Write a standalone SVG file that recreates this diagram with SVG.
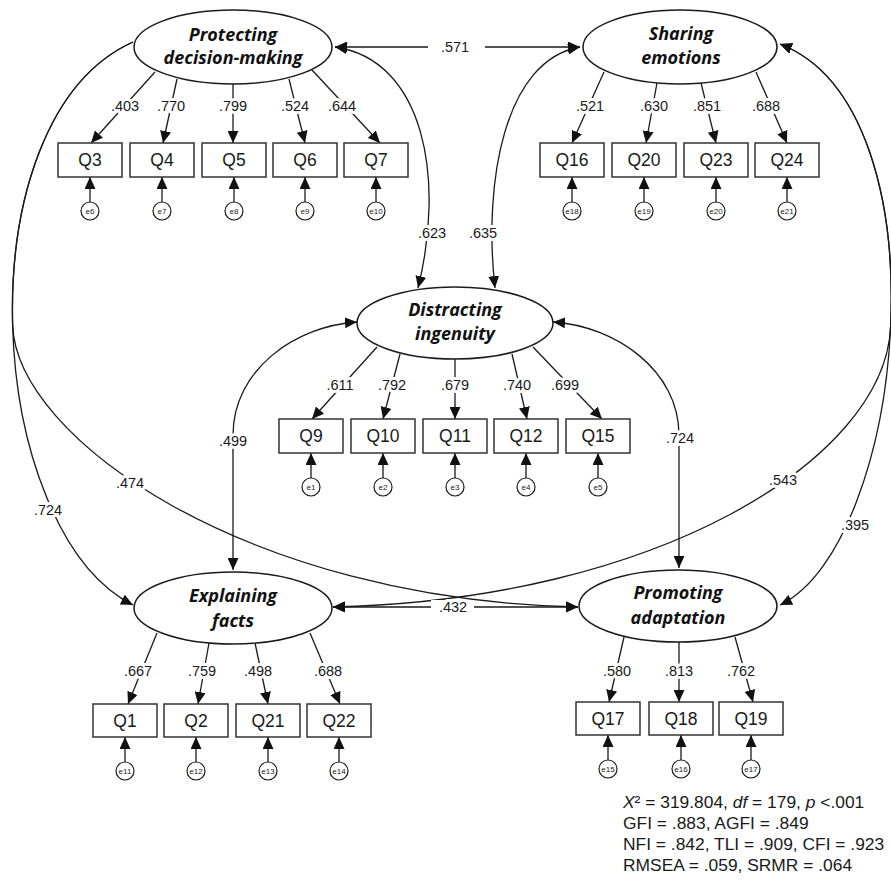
<svg xmlns="http://www.w3.org/2000/svg" width="891" height="896" viewBox="0 0 891 896">
<defs>
<style>
.c{fill:none;stroke:#1a1a1a;stroke-width:1.3}
.a{marker-end:url(#ah)}
.b{marker-start:url(#ah);marker-end:url(#ah)}
.lbl{font-family:"Liberation Sans",Arial,sans-serif;font-size:14.5px;fill:#1a1a1a;text-anchor:middle;stroke:#fff;stroke-width:6px;paint-order:stroke;stroke-linejoin:round}
.bg{fill:#fff}
.lat ellipse{fill:#fff;stroke:#1a1a1a;stroke-width:1.5}
.lat text{font-family:"Open Sans","Noto Sans",sans-serif;font-weight:bold;font-style:italic;font-size:18px;text-anchor:middle;fill:#111}
.obs rect{fill:#fff;stroke:#333;stroke-width:1.5}
.obs text{font-family:"Liberation Sans",Arial,sans-serif;font-size:17.5px;text-anchor:middle;fill:#1a1a1a}
.err circle{fill:#fff;stroke:#1a1a1a;stroke-width:1.2}
.err text{font-family:"Liberation Sans",Arial,sans-serif;font-size:8px;text-anchor:middle;fill:#1a1a1a}
.fit{font-family:"Liberation Sans",Arial,sans-serif;font-size:17.4px;fill:#1a1a1a}
</style>
<marker id="ah" viewBox="0 0 12 11" refX="12" refY="5.5" markerWidth="12" markerHeight="11" markerUnits="userSpaceOnUse" orient="auto-start-reverse"><path d="M0,0 L12,5.5 L0,11 z" fill="#111"/></marker>
</defs>

<g id="connectors">
<!-- covariances -->
<path class="c b" d="M335,47 L580,47"/>
<path class="c b" d="M335,47 C425,60 445,180 418,288"/>
<path class="c b" d="M580,47 C505,60 483,180 495,288"/>
<path class="c b" d="M357,322 C295,326 233,370 233,435 L233,570"/>
<path class="c b" d="M553,322 C615,326 679,370 679,435 L679,568"/>
<path class="c a" d="M133,42 C-40,120 -15,530 133,605"/>
<path class="c a" d="M133,42 C46.5,81 9.5,203 12.6,324.6 C16,440 250,600 578,607"/>
<path class="c b" d="M780,44 C950,110 905,545 780,605"/>
<path class="c b" d="M780,44 C865,77 896.25,202.25 890.6,326.75 C885.1,460 655,600 333,607"/>
<path class="c b" d="M333,607 L578,607"/>
<!-- loadings: Protecting -->
<path class="c a" d="M155,72 L91,143"/>
<path class="c a" d="M177,79 L163,143"/>
<path class="c a" d="M233,84 L233,143"/>
<path class="c a" d="M289,79 L305,143"/>
<path class="c a" d="M312,70 L380,143"/>
<!-- Sharing -->
<path class="c a" d="M604,72 L572,143"/>
<path class="c a" d="M657,83 L646,143"/>
<path class="c a" d="M701,83 L716,143"/>
<path class="c a" d="M756,72 L787,143"/>
<!-- Distracting -->
<path class="c a" d="M377,347 L312,419"/>
<path class="c a" d="M400,354 L383,419"/>
<path class="c a" d="M455,359 L455,419"/>
<path class="c a" d="M512,354 L527,419"/>
<path class="c a" d="M533,347 L602,419"/>
<!-- Explaining -->
<path class="c a" d="M157,633 L128,704"/>
<path class="c a" d="M209,643 L198,704"/>
<path class="c a" d="M255,643 L268,704"/>
<path class="c a" d="M310,633 L340,704"/>
<!-- Promoting -->
<path class="c a" d="M624,637 L609,702"/>
<path class="c a" d="M679,642 L679,702"/>
<path class="c a" d="M735,637 L753,702"/>
<!-- error arrows -->
<path class="c a" d="M90,202 L90,177"/>
<path class="c a" d="M162,202 L162,177"/>
<path class="c a" d="M234,202 L234,177"/>
<path class="c a" d="M305,202 L305,177"/>
<path class="c a" d="M376,202 L376,177"/>
<path class="c a" d="M572,202 L572,177"/>
<path class="c a" d="M644,202 L644,177"/>
<path class="c a" d="M716,202 L716,177"/>
<path class="c a" d="M787,202 L787,177"/>
<path class="c a" d="M311,478 L311,453"/>
<path class="c a" d="M383,478 L383,453"/>
<path class="c a" d="M455,478 L455,453"/>
<path class="c a" d="M526,478 L526,453"/>
<path class="c a" d="M598,478 L598,453"/>
<path class="c a" d="M125,762 L125,737"/>
<path class="c a" d="M196,762 L196,737"/>
<path class="c a" d="M268,762 L268,737"/>
<path class="c a" d="M339,762 L339,737"/>
<path class="c a" d="M608,760 L608,735"/>
<path class="c a" d="M681,760 L681,735"/>
<path class="c a" d="M751,760 L751,735"/>
<!-- labels -->
<rect class="bg" x="428" y="40" width="57" height="14"/>
<rect class="bg" x="431" y="600" width="43" height="14"/>
<text class="lbl" x="455" y="52">.571</text>
<text class="lbl" x="432" y="238">.623</text>
<text class="lbl" x="483" y="238">.635</text>
<text class="lbl" x="233" y="446">.499</text>
<text class="lbl" x="680" y="443">.724</text>
<text class="lbl" x="130" y="488">.474</text>
<text class="lbl" x="48" y="515">.724</text>
<text class="lbl" x="783" y="485">.543</text>
<text class="lbl" x="855" y="530">.395</text>
<text class="lbl" x="453" y="612">.432</text>
<text class="lbl" x="125" y="111">.403</text>
<text class="lbl" x="171" y="111">.770</text>
<text class="lbl" x="233" y="111">.799</text>
<text class="lbl" x="295" y="111">.524</text>
<text class="lbl" x="342" y="111">.644</text>
<text class="lbl" x="590" y="111">.521</text>
<text class="lbl" x="654" y="111">.630</text>
<text class="lbl" x="707" y="111">.851</text>
<text class="lbl" x="766" y="111">.688</text>
<text class="lbl" x="340" y="390">.611</text>
<text class="lbl" x="392" y="390">.792</text>
<text class="lbl" x="455" y="390">.679</text>
<text class="lbl" x="517" y="390">.740</text>
<text class="lbl" x="565" y="390">.699</text>
<text class="lbl" x="138" y="676">.667</text>
<text class="lbl" x="202" y="676">.759</text>
<text class="lbl" x="258" y="676">.498</text>
<text class="lbl" x="328" y="676">.688</text>
<text class="lbl" x="617" y="676">.580</text>
<text class="lbl" x="679" y="676">.813</text>
<text class="lbl" x="741" y="676">.762</text>
</g>

<g id="protecting" class="lat"><ellipse cx="233" cy="47" rx="99" ry="37"/><text x="233" y="40.5">Protecting</text><text x="233" y="63.5">decision-making</text></g>
<g id="sharing" class="lat"><ellipse cx="680" cy="47" rx="97" ry="37"/><text x="681" y="40">Sharing</text><text x="681" y="64">emotions</text></g>
<g id="distracting" class="lat"><ellipse cx="455" cy="323" rx="98" ry="36"/><text x="455" y="316">Distracting</text><text x="455" y="340">ingenuity</text></g>
<g id="explaining" class="lat"><ellipse cx="233" cy="608" rx="99" ry="36"/><text x="233" y="602">Explaining</text><text x="233" y="627">facts</text></g>
<g id="promoting" class="lat"><ellipse cx="678" cy="606" rx="99" ry="36"/><text x="678" y="599">Promoting</text><text x="678" y="624">adaptation</text></g>

<g id="Q3" class="obs"><rect x="58" y="143" width="64" height="34"/><text x="90" y="166">Q3</text></g>
<g id="Q4" class="obs"><rect x="130" y="143" width="64" height="34"/><text x="162" y="166">Q4</text></g>
<g id="Q5" class="obs"><rect x="202" y="143" width="64" height="34"/><text x="234" y="166">Q5</text></g>
<g id="Q6" class="obs"><rect x="273" y="143" width="64" height="34"/><text x="305" y="166">Q6</text></g>
<g id="Q7" class="obs"><rect x="344" y="143" width="64" height="34"/><text x="376" y="166">Q7</text></g>
<g id="Q16" class="obs"><rect x="540" y="143" width="64" height="34"/><text x="572" y="166">Q16</text></g>
<g id="Q20" class="obs"><rect x="612" y="143" width="64" height="34"/><text x="644" y="166">Q20</text></g>
<g id="Q23" class="obs"><rect x="684" y="143" width="64" height="34"/><text x="716" y="166">Q23</text></g>
<g id="Q24" class="obs"><rect x="755" y="143" width="64" height="34"/><text x="787" y="166">Q24</text></g>
<g id="Q9" class="obs"><rect x="279" y="419" width="64" height="34"/><text x="311" y="442">Q9</text></g>
<g id="Q10" class="obs"><rect x="351" y="419" width="64" height="34"/><text x="383" y="442">Q10</text></g>
<g id="Q11" class="obs"><rect x="423" y="419" width="64" height="34"/><text x="455" y="442">Q11</text></g>
<g id="Q12" class="obs"><rect x="494" y="419" width="64" height="34"/><text x="526" y="442">Q12</text></g>
<g id="Q15" class="obs"><rect x="566" y="419" width="64" height="34"/><text x="598" y="442">Q15</text></g>
<g id="Q1" class="obs"><rect x="93" y="704" width="64" height="33"/><text x="125" y="727">Q1</text></g>
<g id="Q2" class="obs"><rect x="164" y="704" width="64" height="33"/><text x="196" y="727">Q2</text></g>
<g id="Q21" class="obs"><rect x="236" y="704" width="64" height="33"/><text x="268" y="727">Q21</text></g>
<g id="Q22" class="obs"><rect x="307" y="704" width="64" height="33"/><text x="339" y="727">Q22</text></g>
<g id="Q17" class="obs"><rect x="576" y="702" width="64" height="33"/><text x="608" y="725">Q17</text></g>
<g id="Q18" class="obs"><rect x="649" y="702" width="64" height="33"/><text x="681" y="725">Q18</text></g>
<g id="Q19" class="obs"><rect x="719" y="702" width="64" height="33"/><text x="751" y="725">Q19</text></g>

<g id="e6" class="err"><circle cx="90" cy="211" r="9"/><text x="90" y="214">e6</text></g>
<g id="e7" class="err"><circle cx="162" cy="211" r="9"/><text x="162" y="214">e7</text></g>
<g id="e8" class="err"><circle cx="234" cy="211" r="9"/><text x="234" y="214">e8</text></g>
<g id="e9" class="err"><circle cx="305" cy="211" r="9"/><text x="305" y="214">e9</text></g>
<g id="e10" class="err"><circle cx="376" cy="211" r="9"/><text x="376" y="214">e10</text></g>
<g id="e18" class="err"><circle cx="572" cy="211" r="9"/><text x="572" y="214">e18</text></g>
<g id="e19" class="err"><circle cx="644" cy="211" r="9"/><text x="644" y="214">e19</text></g>
<g id="e20" class="err"><circle cx="716" cy="211" r="9"/><text x="716" y="214">e20</text></g>
<g id="e21" class="err"><circle cx="787" cy="211" r="9"/><text x="787" y="214">e21</text></g>
<g id="e1" class="err"><circle cx="311" cy="487" r="9"/><text x="311" y="490">e1</text></g>
<g id="e2" class="err"><circle cx="383" cy="487" r="9"/><text x="383" y="490">e2</text></g>
<g id="e3" class="err"><circle cx="455" cy="487" r="9"/><text x="455" y="490">e3</text></g>
<g id="e4" class="err"><circle cx="526" cy="487" r="9"/><text x="526" y="490">e4</text></g>
<g id="e5" class="err"><circle cx="598" cy="487" r="9"/><text x="598" y="490">e5</text></g>
<g id="e11" class="err"><circle cx="125" cy="771" r="9"/><text x="125" y="774">e11</text></g>
<g id="e12" class="err"><circle cx="196" cy="771" r="9"/><text x="196" y="774">e12</text></g>
<g id="e13" class="err"><circle cx="268" cy="771" r="9"/><text x="268" y="774">e13</text></g>
<g id="e14" class="err"><circle cx="339" cy="771" r="9"/><text x="339" y="774">e14</text></g>
<g id="e15" class="err"><circle cx="608" cy="769" r="9"/><text x="608" y="772">e15</text></g>
<g id="e16" class="err"><circle cx="681" cy="769" r="9"/><text x="681" y="772">e16</text></g>
<g id="e17" class="err"><circle cx="751" cy="769" r="9"/><text x="751" y="772">e17</text></g>

<g id="fit-indices" class="fit">
<text x="623" y="808"><tspan font-style="italic">X</tspan>² = 319.804, <tspan font-style="italic">df</tspan> = 179, <tspan font-style="italic">p</tspan> &lt;.001</text>
<text x="623" y="829">GFI = .883, AGFI = .849</text>
<text x="623" y="850">NFI = .842, TLI = .909, CFI = .923</text>
<text x="623" y="871">RMSEA = .059, SRMR = .064</text>
</g>
</svg>
